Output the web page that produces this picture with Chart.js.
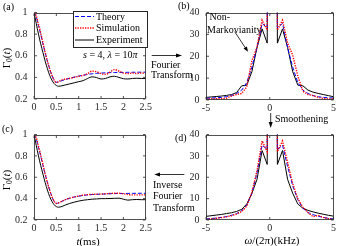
<!DOCTYPE html>
<html>
<head>
<meta charset="utf-8">
<script src="https://cdn.jsdelivr.net/npm/chart.js@4.4.0/dist/chart.umd.min.js"></script>
<style>
  body { margin: 0; background: #fff; }
  #fig { position: relative; width: 338px; height: 246px; overflow: hidden;
         font-family: "Liberation Serif", "DejaVu Serif", serif; color: #000; }
  canvas { position: absolute; }
  .t { position: absolute; font-size: 10px; line-height: 10px; white-space: nowrap; z-index: 3; }
  .yl { position: absolute; font-size: 11px; line-height: 11px; white-space: nowrap; z-index: 3;
        transform: translate(-50%, -50%) rotate(-90deg); }
  .xl { position: absolute; font-size: 11px; line-height: 11px; white-space: nowrap; z-index: 3;
        transform: translate(-50%, -50%); }
  sub { font-size: 7.5px; vertical-align: -2px; }
  #leg { position: absolute; left: 72.5px; top: 10.5px; width: 73px; height: 35px;
         border: 0.8px solid #262626; background: #fff; z-index: 1; }
  svg { position: absolute; left: 0; top: 0; z-index: 2; }
</style>
</head>
<body>
<div id="fig">
  <canvas id="ca" width="154" height="116" style="left:0;top:0"></canvas>
  <canvas id="cb" width="168" height="116" style="left:170px;top:0"></canvas>
  <canvas id="cc" width="154" height="124" style="left:0;top:122px"></canvas>
  <canvas id="cd" width="168" height="124" style="left:170px;top:122px"></canvas>
  <div id="leg"></div>

  <svg width="338" height="246">
    <!-- legend samples -->
    <line x1="75" y1="16.5" x2="94" y2="16.5" stroke="#0000ff" stroke-width="1" stroke-dasharray="4 2"/>
    <line x1="75" y1="28" x2="94" y2="28" stroke="#ff0000" stroke-width="1.4" stroke-dasharray="1.3 1.2"/>
    <line x1="75" y1="40" x2="94" y2="40" stroke="#000" stroke-width="1"/>
    <!-- arrows -->
    <line x1="151.7" y1="55.5" x2="178" y2="55.5" stroke="#000" stroke-width="0.8"/>
    <polygon points="182,55.5 176,53.5 176,57.5" fill="#000"/>
    <line x1="158" y1="174.5" x2="184.3" y2="174.5" stroke="#000" stroke-width="0.8"/>
    <polygon points="154.3,174.5 160,172.5 160,176.5" fill="#000"/>
    <line x1="270.7" y1="113" x2="270.7" y2="124" stroke="#000" stroke-width="0.8"/>
    <polygon points="270.7,128 268.7,122 272.7,122" fill="#000"/>
    <line x1="234.7" y1="31.7" x2="245.5" y2="48" stroke="#000" stroke-width="0.8"/>
    <polygon points="248,51.7 243.5,48.6 246.9,46.4" fill="#000"/>
  </svg>

  <div class="t" style="left:3px;top:1.5px">(a)</div>
  <div class="t" style="left:178px;top:1px">(b)</div>
  <div class="t" style="left:2px;top:123.5px">(c)</div>
  <div class="t" style="left:175px;top:133px">(d)</div>

  <div class="t" style="left:96px;top:11.5px">Theory</div>
  <div class="t" style="left:96px;top:23px">Simulation</div>
  <div class="t" style="left:96px;top:35px">Experiment</div>
  <div class="t" style="left:83px;top:50px"><i>s</i> = 4, <i>λ</i> = 10<i>π</i></div>

  <div class="t" style="left:209.5px;top:11.5px">Non-</div>
  <div class="t" style="left:207px;top:24.5px">Markovianity</div>

  <div class="t" style="left:151px;top:60px">Fourier</div>
  <div class="t" style="left:151px;top:70px">Transform</div>
  <div class="t" style="left:153px;top:180px">Inverse</div>
  <div class="t" style="left:153px;top:191px">Fourier</div>
  <div class="t" style="left:153px;top:202.5px">Transform</div>
  <div class="t" style="left:275px;top:114px">Smoothening</div>

  <div class="yl" style="left:8px;top:58px">Γ<sub>0</sub>(<i>t</i>)</div>
  <div class="yl" style="left:8px;top:180px">Γ<sub>0</sub>(<i>t</i>)</div>
  <div class="xl" style="left:88px;top:241px"><i>t</i>(ms)</div>
  <div class="xl" style="left:272px;top:240px"><i>ω</i>/(2π)(kHz)</div>
</div>

<script>
// time axis (ms) for panels (a) and (c)
const tA = [0, 0.05, 0.1, 0.15, 0.2, 0.25, 0.3, 0.35, 0.4, 0.45, 0.5, 0.55, 0.6, 0.7, 0.8, 0.9,
            1.0, 1.1, 1.2, 1.3, 1.4, 1.5, 1.6, 1.7, 1.8, 1.9, 2.0, 2.1, 2.2, 2.3, 2.4, 2.5];

const theoryA = [1, 0.96, 0.88, 0.8, 0.71, 0.63, 0.55, 0.48, 0.42, 0.375, 0.355, 0.358, 0.366, 0.38, 0.392, 0.402,
                 0.412, 0.42, 0.427, 0.433, 0.437, 0.44, 0.442, 0.444, 0.445, 0.446, 0.446, 0.447, 0.447, 0.448, 0.448, 0.448];
const simA = [1, 0.97, 0.89, 0.81, 0.72, 0.63, 0.55, 0.48, 0.42, 0.375, 0.352, 0.36, 0.372, 0.385, 0.39, 0.4,
              0.41, 0.418, 0.435, 0.458, 0.452, 0.435, 0.428, 0.448, 0.472, 0.458, 0.44, 0.435, 0.44, 0.436, 0.44, 0.436];
const expA = [1, 0.9, 0.8, 0.71, 0.63, 0.55, 0.48, 0.42, 0.375, 0.343, 0.325, 0.318, 0.32, 0.33, 0.34, 0.35,
              0.36, 0.37, 0.39, 0.405, 0.398, 0.385, 0.39, 0.405, 0.41, 0.4, 0.388, 0.385, 0.39, 0.392, 0.39, 0.39];

const theoryC = [1, 0.96, 0.88, 0.8, 0.71, 0.63, 0.55, 0.48, 0.42, 0.375, 0.356, 0.36, 0.37, 0.39, 0.405, 0.415,
                 0.423, 0.43, 0.435, 0.438, 0.44, 0.442, 0.444, 0.446, 0.447, 0.448, 0.448, 0.449, 0.449, 0.45, 0.45, 0.45];
const simC = [1, 0.97, 0.89, 0.81, 0.72, 0.63, 0.55, 0.48, 0.42, 0.375, 0.355, 0.36, 0.37, 0.39, 0.405, 0.415,
              0.425, 0.432, 0.437, 0.44, 0.442, 0.443, 0.445, 0.448, 0.45, 0.45, 0.445, 0.438, 0.435, 0.435, 0.435, 0.435];
const expC = [1, 0.9, 0.8, 0.71, 0.63, 0.55, 0.48, 0.42, 0.375, 0.343, 0.325, 0.32, 0.323, 0.34, 0.355, 0.367,
              0.377, 0.385, 0.39, 0.395, 0.397, 0.4, 0.4, 0.401, 0.403, 0.404, 0.395, 0.386, 0.39, 0.392, 0.39, 0.39];

// frequency axis (kHz) for panels (b) and (d)
const fw = [-5.0, -4.6, -4.2, -3.8, -3.4, -3.0, -2.6, -2.2, -1.8, -1.4, -1.0, -0.6, -0.2,
            0.2, 0.6, 1.0, 1.4, 1.8, 2.2, 2.6, 3.0, 3.4, 3.8, 4.2, 4.6, 5.0];

const theoryB = [0.8, 0.9, 1, 1.2, 1.5, 2, 3, 4.5, 8, 15, 24, 35, 33,
                 600, 33, 35, 24, 15, 8, 4.5, 3, 2, 1.5, 1.2, 1, 0.9];
const simB = [0.5, 0.5, 0.6, 0.6, 0.8, 1.8, 2.5, 3, 6, 18, 24, 36.5, 32,
              600, 32, 36.5, 26, 20.5, 11, 4, 2.5, 2, 1.2, 0.7, 0.5, 0.5];
const expB = [1.2, 1.4, 1.6, 1.8, 2.1, 2.5, 3.4, 6.5, 6.8, 13, 24, 32.5, 26,
              600, 26, 32.5, 24, 13, 6.8, 6.5, 4.5, 3.6, 3, 2.5, 2, 1.5];

const theoryD = [0.5, 0.7, 0.9, 1.2, 1.6, 2.2, 3, 4.3, 7, 12.5, 22, 35, 33,
                 600, 33, 35, 25, 16, 9.5, 5.5, 3.5, 2.5, 1.8, 1.2, 0.8, 0.5];
const simD = [0.3, 0.5, 0.8, 1.1, 1.5, 2, 2.8, 4, 6.5, 13, 23, 37, 32,
              600, 32, 37, 27, 17, 10, 6, 3.5, 1.5, 2.2, 1.2, 0.6, 0.3];
const expD = [1.7, 2, 2.3, 2.6, 3, 3.4, 4, 5, 7.5, 12.5, 19, 32.5, 26,
              600, 26, 32.5, 19, 12.5, 7.5, 5.5, 4.5, 3.8, 3.2, 2.7, 2.2, 1.8];

// tick labels
const tTicks = [0, 0.5, 1, 1.5, 2, 2.5];
const gTicks = [0.2, 0.4, 0.6, 0.8, 1];
const wTicks = [-5, 0, 5];
const sTicks = [0, 10, 20, 30, 40];

const axisColor = '#262626';
const tickFont = { family: '"Liberation Serif", serif', size: 10 };

function pairs(xs, ys) {
    return xs.map((x, i) => ({ x: x, y: ys[i] }));
}

// box around the axes with inward ticks on all four sides
const framePlugin = {
    id: 'frame',
    afterDatasetsDraw(chart) {
        const { ctx, chartArea: a, scales } = chart;
        const l = Math.round(a.left) + 0.5, r = Math.round(a.right) - 0.5;
        const t = Math.round(a.top) + 0.5, b = Math.round(a.bottom) - 0.5;
        const L = 2.5;
        ctx.save();
        ctx.strokeStyle = axisColor;
        ctx.lineWidth = 0.8;
        ctx.strokeRect(l, t, r - l, b - t);
        ctx.beginPath();
        scales.x.ticks.forEach(tk => {
            const p = scales.x.getPixelForValue(tk.value);
            ctx.moveTo(p, b); ctx.lineTo(p, b - L);
            ctx.moveTo(p, t); ctx.lineTo(p, t + L);
        });
        scales.y.ticks.forEach(tk => {
            const p = scales.y.getPixelForValue(tk.value);
            ctx.moveTo(l, p); ctx.lineTo(l + L, p);
            ctx.moveTo(r, p); ctx.lineTo(r - L, p);
        });
        ctx.stroke();
        ctx.restore();
    }
};

function makeSets(xs, th, sim, ex, smooth) {
    const common = { pointRadius: 0, fill: false, cubicInterpolationMode: smooth ? 'monotone' : 'default', tension: 0 };
    return [
        Object.assign({ label: 'Simulation', data: pairs(xs, sim), borderColor: '#ff0000', borderWidth: 1.4, borderDash: [1.3, 1.2] }, common),
        Object.assign({ label: 'Theory', data: pairs(xs, th), borderColor: '#0000ff', borderWidth: 1, borderDash: [4, 2] }, common),
        Object.assign({ label: 'Experiment', data: pairs(xs, ex), borderColor: '#000000', borderWidth: 1 }, common)
    ];
}

function panel(id, datasets, xr, yr, xt, yt, pad, yw, xh) {
    return new Chart(document.getElementById(id), {
        type: 'line',
        data: { datasets: datasets },
        options: {
            responsive: false,
            animation: false,
            devicePixelRatio: 1,
            layout: { padding: pad },
            plugins: { legend: { display: false }, tooltip: { enabled: false } },
            scales: {
                x: {
                    type: 'linear', min: xr[0], max: xr[1],
                    afterBuildTicks: s => { s.ticks = xt.map(v => ({ value: v })); },
                    afterFit: s => { s.height = xh; },
                    grid: { display: false, drawTicks: false },
                    border: { display: false },
                    ticks: { font: tickFont, color: axisColor, padding: 2, maxRotation: 0, autoSkip: false,
                             callback: v => String(v) }
                },
                y: {
                    type: 'linear', min: yr[0], max: yr[1],
                    afterBuildTicks: s => { s.ticks = yt.map(v => ({ value: v })); },
                    afterFit: s => { s.width = yw; },
                    grid: { display: false, drawTicks: false },
                    border: { display: false },
                    ticks: { font: tickFont, color: axisColor, padding: 6.5, autoSkip: false,
                             callback: v => String(v) }
                }
            }
        },
        plugins: [framePlugin]
    });
}

panel('ca', makeSets(tA, theoryA, simA, expA, true), [0, 2.5], [0.2, 1], tTicks, gTicks,
      { top: 11, right: 8, left: 0, bottom: 0 }, 34, 17);
panel('cb', makeSets(fw, theoryB, simB, expB, false), [-5, 5], [0, 40], wTicks, sTicks,
      { top: 12, right: 3, left: 0, bottom: 0 }, 36, 16);
panel('cc', makeSets(tA, theoryC, simC, expC, true), [0, 2.5], [0.2, 1], tTicks, gTicks,
      { top: 10, right: 8, left: 0, bottom: 0 }, 34, 26);
panel('cd', makeSets(fw, theoryD, simD, expD, false), [-5, 5], [0, 40], wTicks, sTicks,
      { top: 10, right: 3, left: 0, bottom: 0 }, 36, 26);
</script>
</body>
</html>
